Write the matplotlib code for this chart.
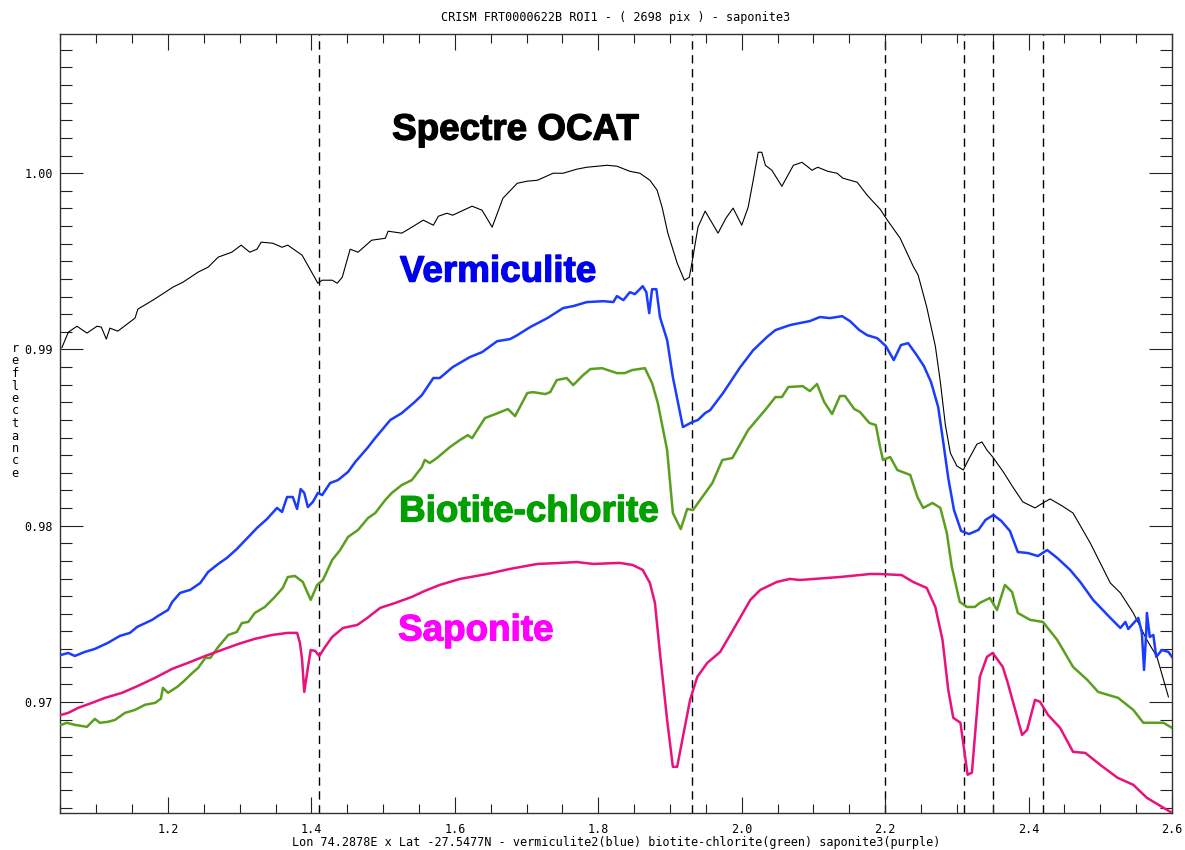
import numpy as np
import matplotlib
matplotlib.use("Agg")
import matplotlib.pyplot as plt
import matplotlib.patheffects as pe
from matplotlib.ticker import MultipleLocator, FixedLocator

# --- data (wavelength in microns, reflectance) ---
ocat_wl = [1.052, 1.061, 1.073, 1.087, 1.101, 1.107, 1.114, 1.119, 1.130, 1.154,
           1.158, 1.179, 1.192, 1.207, 1.221, 1.242, 1.256, 1.270, 1.289, 1.302,
           1.314, 1.324, 1.330, 1.346, 1.359, 1.367, 1.387, 1.409, 1.415, 1.429,
           1.436, 1.443, 1.454, 1.465, 1.484, 1.503, 1.507, 1.526, 1.540, 1.556,
           1.570, 1.577, 1.589, 1.597, 1.624, 1.638, 1.652, 1.667, 1.687, 1.701,
           1.715, 1.737, 1.751, 1.770, 1.784, 1.812, 1.826, 1.844, 1.858, 1.872,
           1.882, 1.889, 1.897, 1.910, 1.920, 1.927, 1.932, 1.939, 1.949, 1.967,
           1.978, 1.988, 2.000, 2.009, 2.016, 2.023, 2.028, 2.033, 2.042, 2.056,
           2.072, 2.084, 2.091, 2.098, 2.106, 2.120, 2.133, 2.141, 2.161, 2.175,
           2.193, 2.203, 2.221, 2.239, 2.246, 2.258, 2.270, 2.277, 2.284, 2.291,
           2.300, 2.309, 2.316, 2.328, 2.335, 2.342, 2.350, 2.364, 2.378, 2.392,
           2.409, 2.420, 2.430, 2.447, 2.462, 2.486, 2.514, 2.528, 2.546, 2.565,
           2.579, 2.595]
ocat_refl = [0.99010, 0.99098, 0.99132, 0.99093, 0.99132, 0.99127, 0.99059, 0.99121, 0.99104, 0.99178,
             0.99229, 0.99280, 0.99314, 0.99354, 0.99382, 0.99439, 0.99467, 0.99524, 0.99552, 0.99592,
             0.99552, 0.99569, 0.99609, 0.99603, 0.99580, 0.99592, 0.99535, 0.99376, 0.99393, 0.99393,
             0.99376, 0.99410, 0.99569, 0.99552, 0.99620, 0.99631, 0.99671, 0.99660, 0.99694, 0.99734,
             0.99705, 0.99756, 0.99773, 0.99762, 0.99813, 0.99790, 0.99694, 0.99858, 0.99943, 0.99955,
             0.99960, 1.00000, 1.00000, 1.00023, 1.00034, 1.00045, 1.00040, 1.00011, 1.00000, 0.99960,
             0.99904, 0.99807, 0.99660, 0.99490, 0.99393, 0.99410, 0.99524, 0.99694, 0.99785, 0.99660,
             0.99745, 0.99802, 0.99705, 0.99807, 0.99960, 1.00119, 1.00119, 1.00045, 1.00017, 0.99926,
             1.00045, 1.00062, 1.00040, 1.00017, 1.00034, 1.00011, 1.00000, 0.99972, 0.99949, 0.99875,
             0.99796, 0.99734, 0.99631, 0.99473, 0.99422, 0.99240, 0.99019, 0.98815, 0.98571, 0.98412,
             0.98339, 0.98316, 0.98373, 0.98463, 0.98475, 0.98429, 0.98390, 0.98310, 0.98220, 0.98135,
             0.98101, 0.98129, 0.98152, 0.98112, 0.98072, 0.97902, 0.97675, 0.97619, 0.97505, 0.97352,
             0.97256, 0.97029]

verm_wl = [1.051, 1.061, 1.070, 1.084, 1.098, 1.116, 1.133, 1.147, 1.157, 1.178,
           1.186, 1.200, 1.206, 1.217, 1.231, 1.245, 1.256, 1.270, 1.282, 1.296,
           1.312, 1.324, 1.338, 1.352, 1.359, 1.366, 1.374, 1.380, 1.385, 1.390,
           1.395, 1.402, 1.409, 1.415, 1.426, 1.437, 1.451, 1.461, 1.478, 1.489,
           1.510, 1.526, 1.544, 1.554, 1.570, 1.579, 1.597, 1.621, 1.638, 1.659,
           1.677, 1.687, 1.705, 1.729, 1.751, 1.765, 1.784, 1.807, 1.821, 1.826,
           1.835, 1.844, 1.851, 1.862, 1.867, 1.871, 1.875, 1.881, 1.886, 1.896,
           1.904, 1.918, 1.931, 1.939, 1.949, 1.956, 1.974, 1.998, 2.016, 2.035,
           2.047, 2.067, 2.081, 2.095, 2.109, 2.123, 2.140, 2.151, 2.164, 2.175,
           2.189, 2.201, 2.212, 2.222, 2.232, 2.243, 2.254, 2.264, 2.274, 2.281,
           2.288, 2.296, 2.306, 2.317, 2.330, 2.340, 2.351, 2.362, 2.374, 2.385,
           2.399, 2.413, 2.426, 2.440, 2.458, 2.472, 2.490, 2.514, 2.528, 2.535,
           2.539, 2.553, 2.558, 2.561, 2.564, 2.565, 2.569, 2.574, 2.578, 2.586,
           2.595, 2.600]
verm_refl = [0.97267, 0.97278, 0.97261, 0.97284, 0.97301, 0.97335, 0.97375, 0.97392, 0.97426, 0.97466,
             0.97488, 0.97522, 0.97568, 0.97619, 0.97636, 0.97675, 0.97738, 0.97783, 0.97817, 0.97868,
             0.97936, 0.97987, 0.98038, 0.98101, 0.98078, 0.98163, 0.98163, 0.98095, 0.98208, 0.98186,
             0.98106, 0.98135, 0.98186, 0.98174, 0.98242, 0.98259, 0.98305, 0.98361, 0.98441, 0.98498,
             0.98600, 0.98639, 0.98702, 0.98741, 0.98838, 0.98838, 0.98900, 0.98957, 0.98985, 0.99047,
             0.99059, 0.99081, 0.99127, 0.99178, 0.99235, 0.99246, 0.99269, 0.99274, 0.99269, 0.99303,
             0.99280, 0.99325, 0.99314, 0.99359, 0.99325, 0.99206, 0.99342, 0.99342, 0.99184, 0.99053,
             0.98843, 0.98560, 0.98588, 0.98600, 0.98639, 0.98656, 0.98753, 0.98900, 0.98996, 0.99070,
             0.99110, 0.99138, 0.99150, 0.99161, 0.99184, 0.99178, 0.99189, 0.99161, 0.99110, 0.99081,
             0.99064, 0.99019, 0.98940, 0.99025, 0.99036, 0.98974, 0.98906, 0.98815, 0.98673, 0.98475,
             0.98271, 0.98089, 0.97970, 0.97953, 0.97976, 0.98033, 0.98061, 0.98027, 0.97970, 0.97851,
             0.97845, 0.97828, 0.97862, 0.97817, 0.97749, 0.97681, 0.97579, 0.97477, 0.97420, 0.97454,
             0.97414, 0.97477, 0.97392, 0.97182, 0.97392, 0.97505, 0.97369, 0.97380, 0.97256, 0.97295,
             0.97284, 0.97256]

biot_wl = [1.051, 1.059, 1.070, 1.087, 1.098, 1.105, 1.116, 1.126, 1.140, 1.154,
           1.168, 1.182, 1.190, 1.193, 1.200, 1.213, 1.221, 1.234, 1.242, 1.252,
           1.259, 1.270, 1.284, 1.296, 1.303, 1.312, 1.321, 1.335, 1.349, 1.360,
           1.367, 1.377, 1.388, 1.399, 1.408, 1.416, 1.429, 1.440, 1.451, 1.465,
           1.479, 1.489, 1.503, 1.512, 1.526, 1.540, 1.554, 1.558, 1.565, 1.575,
           1.593, 1.607, 1.618, 1.624, 1.642, 1.660, 1.674, 1.684, 1.701, 1.709,
           1.726, 1.733, 1.742, 1.756, 1.765, 1.779, 1.789, 1.805, 1.826, 1.837,
           1.847, 1.865, 1.875, 1.883, 1.896, 1.904, 1.915, 1.924, 1.932, 1.942,
           1.959, 1.973, 1.987, 2.009, 2.035, 2.047, 2.056, 2.065, 2.085, 2.095,
           2.105, 2.115, 2.126, 2.137, 2.144, 2.157, 2.165, 2.178, 2.187, 2.193,
           2.197, 2.207, 2.217, 2.235, 2.245, 2.253, 2.266, 2.277, 2.286, 2.293,
           2.304, 2.314, 2.325, 2.332, 2.346, 2.356, 2.367, 2.377, 2.385, 2.402,
           2.420, 2.440, 2.462, 2.482, 2.497, 2.525, 2.546, 2.560, 2.588, 2.600]
biot_refl = [0.96870, 0.96882, 0.96870, 0.96859, 0.96904, 0.96882, 0.96887, 0.96898, 0.96938, 0.96955,
             0.96984, 0.96995, 0.97018, 0.97080, 0.97052, 0.97086, 0.97114, 0.97165, 0.97193, 0.97250,
             0.97250, 0.97312, 0.97380, 0.97397, 0.97448, 0.97454, 0.97505, 0.97539, 0.97596, 0.97647,
             0.97709, 0.97715, 0.97681, 0.97579, 0.97664, 0.97692, 0.97806, 0.97862, 0.97936, 0.97976,
             0.98044, 0.98072, 0.98146, 0.98186, 0.98231, 0.98259, 0.98333, 0.98373, 0.98356, 0.98384,
             0.98446, 0.98486, 0.98514, 0.98497, 0.98611, 0.98639, 0.98662, 0.98622, 0.98753, 0.98758,
             0.98747, 0.98758, 0.98826, 0.98838, 0.98798, 0.98855, 0.98889, 0.98894, 0.98866, 0.98866,
             0.98883, 0.98894, 0.98809, 0.98696, 0.98429, 0.98072, 0.97981, 0.98095, 0.98089, 0.98146,
             0.98242, 0.98373, 0.98384, 0.98543, 0.98668, 0.98730, 0.98730, 0.98787, 0.98792, 0.98764,
             0.98804, 0.98702, 0.98634, 0.98736, 0.98736, 0.98662, 0.98645, 0.98583, 0.98571, 0.98446,
             0.98373, 0.98390, 0.98316, 0.98288, 0.98163, 0.98101, 0.98129, 0.98101, 0.97959, 0.97766,
             0.97568, 0.97539, 0.97539, 0.97562, 0.97590, 0.97522, 0.97664, 0.97624, 0.97505, 0.97466,
             0.97454, 0.97352, 0.97199, 0.97125, 0.97057, 0.97023, 0.96955, 0.96882, 0.96882, 0.96853]

sapo_wl = [1.051, 1.061, 1.075, 1.094, 1.112, 1.136, 1.158, 1.182, 1.206, 1.228,
           1.252, 1.275, 1.298, 1.321, 1.345, 1.367, 1.380, 1.384, 1.387, 1.390,
           1.395, 1.399, 1.405, 1.411, 1.419, 1.429, 1.444, 1.464, 1.478, 1.496,
           1.517, 1.540, 1.558, 1.579, 1.607, 1.645, 1.677, 1.715, 1.747, 1.770,
           1.793, 1.830, 1.848, 1.862, 1.872, 1.879, 1.886, 1.896, 1.904, 1.910,
           1.918, 1.928, 1.938, 1.952, 1.970, 1.988, 2.012, 2.026, 2.049, 2.067,
           2.081, 2.137, 2.179, 2.193, 2.223, 2.239, 2.258, 2.270, 2.280, 2.288,
           2.295, 2.305, 2.315, 2.321, 2.332, 2.342, 2.350, 2.364, 2.371, 2.391,
           2.398, 2.409, 2.416, 2.427, 2.444, 2.462, 2.479, 2.500, 2.524, 2.546,
           2.565, 2.581, 2.600]
sapo_refl = [0.96927, 0.96938, 0.96967, 0.96995, 0.97023, 0.97052, 0.97091, 0.97137, 0.97188, 0.97222,
             0.97261, 0.97295, 0.97329, 0.97358, 0.97380, 0.97392, 0.97392, 0.97335, 0.97239, 0.97057,
             0.97193, 0.97295, 0.97290, 0.97261, 0.97312, 0.97369, 0.97420, 0.97437, 0.97477, 0.97534,
             0.97562, 0.97596, 0.97630, 0.97664, 0.97698, 0.97726, 0.97755, 0.97783, 0.97789, 0.97794,
             0.97783, 0.97789, 0.97777, 0.97749, 0.97675, 0.97562, 0.97278, 0.96898, 0.96632, 0.96632,
             0.96802, 0.97012, 0.97142, 0.97222, 0.97284, 0.97409, 0.97579, 0.97636, 0.97681, 0.97698,
             0.97692, 0.97709, 0.97726, 0.97726, 0.97720, 0.97681, 0.97647, 0.97539, 0.97352, 0.97069,
             0.96910, 0.96882, 0.96587, 0.96599, 0.97142, 0.97256, 0.97278, 0.97199, 0.97108, 0.96813,
             0.96842, 0.97012, 0.97001, 0.96927, 0.96853, 0.96717, 0.96711, 0.96643, 0.96570, 0.96530,
             0.96456, 0.96417, 0.96371]

band_centers = [1.41, 1.93, 2.20, 2.31, 2.35, 2.42]

x_ticks = [1.2, 1.4, 1.6, 1.8, 2.0, 2.2, 2.4, 2.6]
x_labels = ["1.2", "1.4", "1.6", "1.8", "2.0", "2.2", "2.4", "2.6"]
y_ticks = [0.97, 0.98, 0.99, 1.00]
y_labels = ["0.97", "0.98", "0.99", "1.00"]

labels = ["Spectre OCAT", "Vermiculite", "Biotite-chlorite", "Saponite"]
label_x = [1.684, 1.660, 1.703, 1.629]
label_y = [1.00244, 0.99439, 0.98078, 0.97403]
label_colors = ["black", "#0000f0", "#00a000", "#ff00ff"]

title = "CRISM FRT0000622B ROI1 - ( 2698 pix ) - saponite3"
xlabel = "Lon 74.2878E x Lat -27.5477N - vermiculite2(blue) biotite-chlorite(green) saponite3(purple)"
ylabel = "reflectance"

# --- figure ---
mono = "DejaVu Sans Mono"
fig = plt.figure(figsize=(11.85, 8.5), dpi=100)
ax = fig.add_axes([60 / 1185, 1 - 813 / 850, 1112 / 1185, 779 / 850])

for wl in band_centers:
    ax.axvline(wl, color="black", lw=1.0, linestyle=(0, (6, 4)), zorder=1)

ax.plot(ocat_wl, ocat_refl, color="black", lw=0.8, zorder=3)
ax.plot(verm_wl, verm_refl, color="#1a3cff", lw=1.8, zorder=3)
ax.plot(biot_wl, biot_refl, color="#5b9f1f", lw=1.8, zorder=3)
ax.plot(sapo_wl, sapo_refl, color="#e8127c", lw=1.8, zorder=3)

# heavy annotation labels (thin stroke to thicken the bold face)
for txt, lx, ly, c in zip(labels, label_x, label_y, label_colors):
    ax.text(lx, ly, txt, color=c, ha="center", va="center",
            fontsize=26.5, fontweight="bold", family="Liberation Sans",
            path_effects=[pe.withStroke(linewidth=0.9, foreground=c)])

ax.set_xlim(1.0494, 2.6)
ax.set_ylim(0.9637, 1.0079)

ax.xaxis.set_major_locator(FixedLocator(x_ticks))
ax.set_xticklabels(x_labels)
ax.xaxis.set_minor_locator(MultipleLocator(0.05))
ax.yaxis.set_major_locator(FixedLocator(y_ticks))
ax.set_yticklabels(y_labels)
ax.yaxis.set_minor_locator(MultipleLocator(0.001))

ax.tick_params(axis="both", which="both", direction="in", top=True, right=True,
               width=0.8, color="#222222", labelsize=8.5)
ax.tick_params(axis="x", which="major", length=11.5, pad=7)
ax.tick_params(axis="x", which="minor", length=6.5)
ax.tick_params(axis="y", which="major", length=16.5, pad=5)
ax.tick_params(axis="y", which="minor", length=8.6)
for lab in ax.get_xticklabels() + ax.get_yticklabels():
    lab.set_family(mono)
for sp in ax.spines.values():
    sp.set_linewidth(1.0)
    sp.set_color("#333333")

ax.set_title(title, family=mono, fontsize=8.5, pad=9)
ax.set_xlabel(xlabel, family=mono, fontsize=8.5, labelpad=0)
fig.text(15 / 1185, 1 - 411 / 850, "\n".join(ylabel), family=mono, fontsize=8.5,
         ha="center", va="center", linespacing=0.95)

fig.savefig("out.png", dpi=100)
